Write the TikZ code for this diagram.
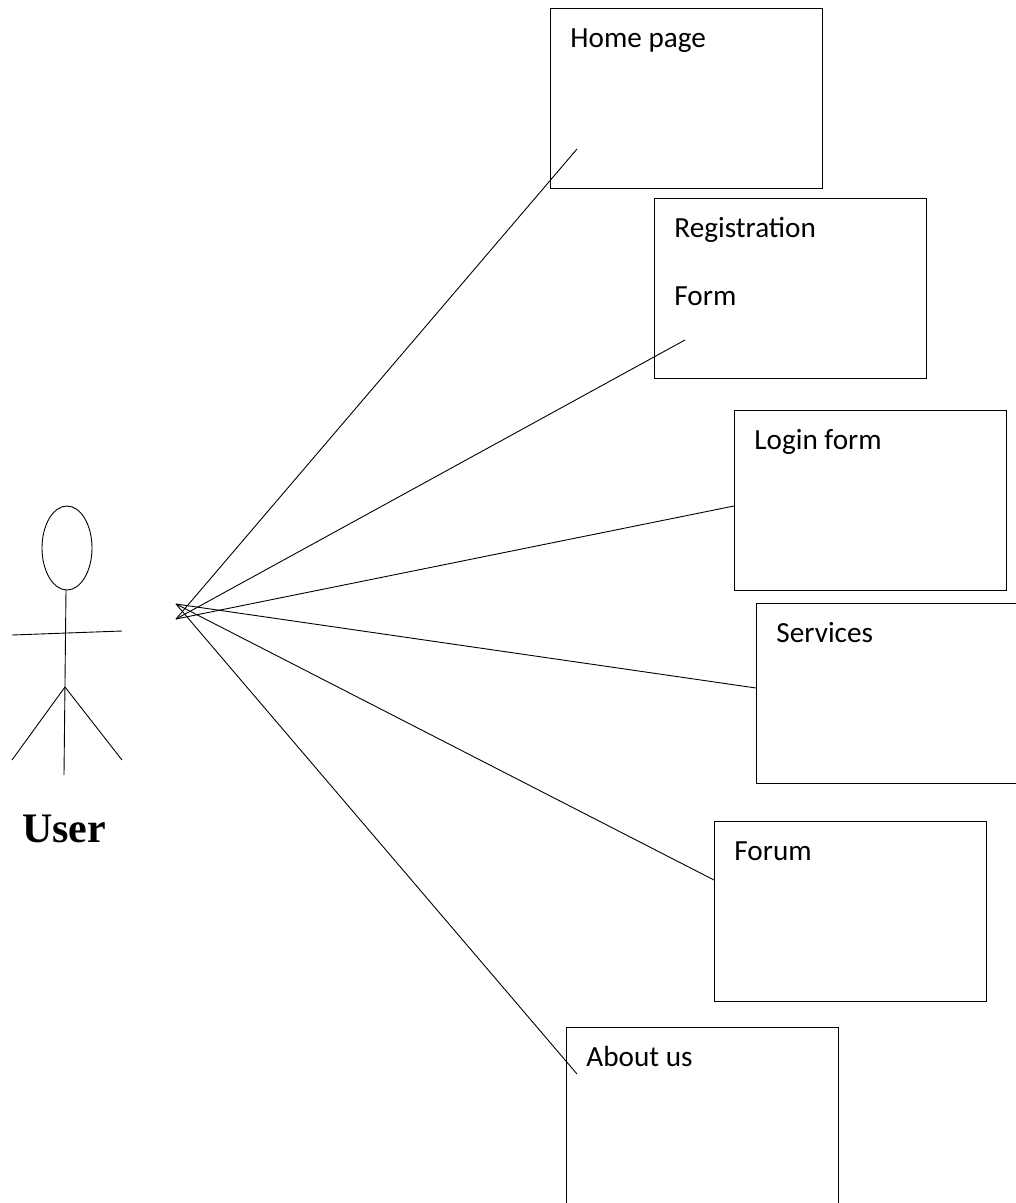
\documentclass[tikz,border=0pt]{standalone}
\usetikzlibrary{shapes.geometric}
\usepackage{fontspec}
\setmainfont{Carlito}
\newfontfamily\userfont{Liberation Serif}
\begin{document}
\begin{tikzpicture}[x=1pt,y=-1pt,line width=0.9pt,
  pagebox/.style={draw=black,line width=0.9pt,minimum width=272pt,minimum height=180pt,anchor=north west,inner sep=0pt},
  boxlabel/.style={anchor=base west,inner sep=0pt,font=\fontsize{29.2}{34}\selectfont},
  wire/.style={draw=black,line width=0.9pt}]
\useasboundingbox (0,0) rectangle (1016,1203);
\node[pagebox] (home) at (549.5,7.5) {};
\node[pagebox] (reg) at (653.5,197.5) {};
\node[pagebox] (login) at (733.5,409.5) {};
\node[pagebox] (serv) at (755.5,602.5) {};
\node[pagebox] (forum) at (713.5,820.5) {};
\node[pagebox] (about) at (565.5,1026.5) {};
\node[boxlabel] (t1) at (570,47) {Home page};
\node[boxlabel] (t2) at (674,237) {Registration};
\node[boxlabel] (t2b) at (674,305) {Form};
\node[boxlabel] (t3) at (754,449) {Login form};
\node[boxlabel] (t4) at (776,642) {Services};
\node[boxlabel] (t5) at (734,860) {Forum};
\node[boxlabel] (t6) at (586,1066) {About us};
\coordinate (c1a) at (176,619); \coordinate (c1b) at (577,149);
\coordinate (c2a) at (176,619); \coordinate (c2b) at (685,340);
\coordinate (c3a) at (176,619); \coordinate (c3b) at (734,506);
\coordinate (c4a) at (176,604); \coordinate (c4b) at (756,688);
\coordinate (c5a) at (176,604); \coordinate (c5b) at (714,880);
\coordinate (c6a) at (176,604); \coordinate (c6b) at (577,1074);
\draw[wire] (c1a)--(c1b);
\draw[wire] (c2a)--(c2b);
\draw[wire] (c3a)--(c3b);
\draw[wire] (c4a)--(c4b);
\draw[wire] (c5a)--(c5b);
\draw[wire] (c6a)--(c6b);
\node[draw=black,line width=0.9pt,ellipse,minimum width=50pt,minimum height=84pt,inner sep=0pt] (head) at (67,548) {};
\coordinate (neck) at (66,590);
\coordinate (hip) at (65,687);
\coordinate (foot) at (64,775);
\coordinate (armL) at (12,635); \coordinate (armR) at (122,631);
\coordinate (legL) at (12,760); \coordinate (legR) at (122,760);
\draw[wire] (neck)--(foot);
\draw[wire] (armL)--(armR);
\draw[wire] (legL)--(hip)--(legR);
\node[anchor=base,inner sep=0pt,font=\userfont\bfseries\fontsize{42}{48}\selectfont] (user) at (64,842) {User};
\end{tikzpicture}
\end{document}
